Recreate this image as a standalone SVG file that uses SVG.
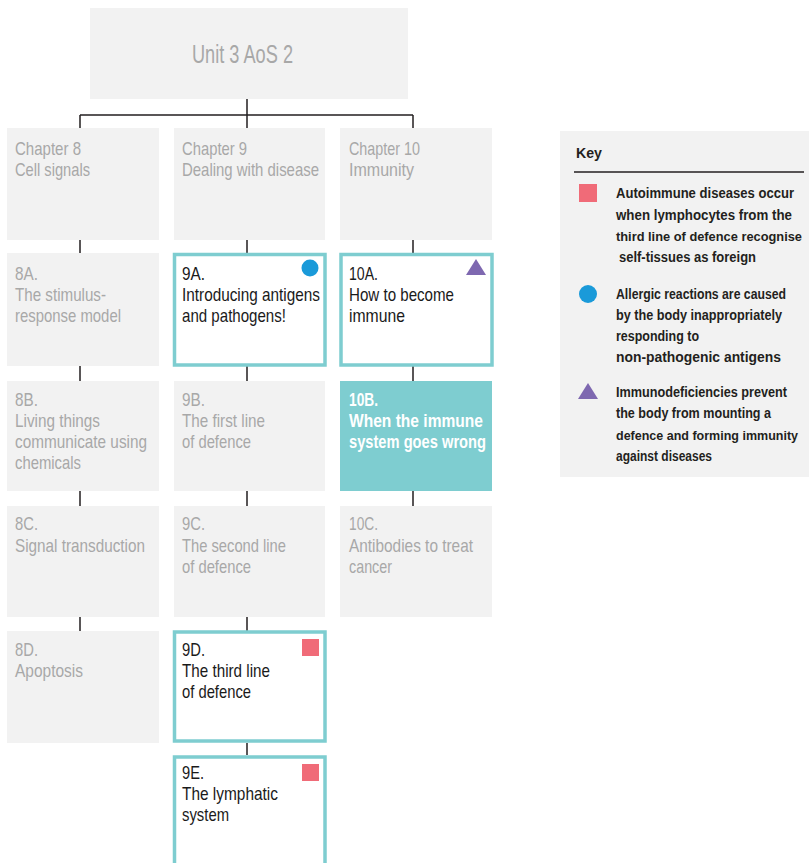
<svg xmlns="http://www.w3.org/2000/svg" width="809" height="863" viewBox="0 0 809 863">
  <style>
    text { font-family: "Liberation Sans Narrow", "Liberation Sans", Arial, sans-serif; }
    .box { fill: #f2f2f2; }
    .active { fill: #ffffff; stroke: #7ecdd0; stroke-width: 3.5; }
    .filled { fill: #7ecdd0; }
    .dim { fill: #a8a8a8; font-size: 19px; }
    .dark { fill: #1a1a1a; font-size: 19px; }
    .light { fill: #ffffff; font-size: 19px; font-weight: bold; }
    .title { fill: #a8a8a8; font-size: 25px; }
    .key { fill: #231f20; font-size: 14px; font-weight: bold; }
    .key.long { font-size: 13px; }
    .link { stroke: #231f20; stroke-width: 1.5; fill: none; }
    .auto { fill: #f06b78; }
    .allergy { fill: #1a9ad9; }
    .immuno { fill: #7e68b0; }
  </style>

  <g id="connectors">
    <path class="link" d="M247 99 V128 M80 115 H413 M80 115 V128 M413 115 V128"/>
    <path class="link" d="M80 240 V253 M80 366 V381 M80 491 V506 M80 617 V631"/>
    <path class="link" d="M247 240 V253 M247 366 V381 M247 491 V506 M247 617 V631 M247 743 V755"/>
    <path class="link" d="M413 240 V253 M413 366 V381 M413 491 V506"/>
  </g>

  <g id="unit">
    <rect class="box" x="90" y="8" width="318" height="91"/>
    <text class="title" x="192" y="63" textLength="101" lengthAdjust="spacingAndGlyphs">Unit 3 AoS 2</text>
  </g>

  <!-- Chapter headers -->
  <g id="ch8">
    <rect class="box" x="7" y="128" width="152" height="112"/>
    <text class="dim" x="15" y="155" textLength="66" lengthAdjust="spacingAndGlyphs">Chapter 8</text>
    <text class="dim" x="15" y="176" textLength="75" lengthAdjust="spacingAndGlyphs">Cell signals</text>
  </g>
  <g id="ch9">
    <rect class="box" x="174" y="128" width="151" height="112"/>
    <text class="dim" x="182" y="155" textLength="65" lengthAdjust="spacingAndGlyphs">Chapter 9</text>
    <text class="dim" x="182" y="176" textLength="137" lengthAdjust="spacingAndGlyphs">Dealing with disease</text>
  </g>
  <g id="ch10">
    <rect class="box" x="340" y="128" width="152" height="112"/>
    <text class="dim" x="349" y="155" textLength="71" lengthAdjust="spacingAndGlyphs">Chapter 10</text>
    <text class="dim" x="349" y="176" textLength="65" lengthAdjust="spacingAndGlyphs">Immunity</text>
  </g>

  <!-- Chapter 8 topics -->
  <g id="t8A">
    <rect class="box" x="7" y="253" width="152" height="113"/>
    <text class="dim" x="15" y="280" textLength="23" lengthAdjust="spacingAndGlyphs">8A.</text>
    <text class="dim" x="15" y="301" textLength="91" lengthAdjust="spacingAndGlyphs">The stimulus-</text>
    <text class="dim" x="15" y="322" textLength="106" lengthAdjust="spacingAndGlyphs">response model</text>
  </g>
  <g id="t8B">
    <rect class="box" x="7" y="381" width="152" height="110"/>
    <text class="dim" x="15" y="406" textLength="23" lengthAdjust="spacingAndGlyphs">8B.</text>
    <text class="dim" x="15" y="427" textLength="85" lengthAdjust="spacingAndGlyphs">Living things</text>
    <text class="dim" x="15" y="448" textLength="132" lengthAdjust="spacingAndGlyphs">communicate using</text>
    <text class="dim" x="15" y="469" textLength="66" lengthAdjust="spacingAndGlyphs">chemicals</text>
  </g>
  <g id="t8C">
    <rect class="box" x="7" y="506" width="152" height="111"/>
    <text class="dim" x="15" y="530" textLength="23" lengthAdjust="spacingAndGlyphs">8C.</text>
    <text class="dim" x="15" y="552" textLength="130" lengthAdjust="spacingAndGlyphs">Signal transduction</text>
  </g>
  <g id="t8D">
    <rect class="box" x="7" y="631" width="152" height="112"/>
    <text class="dim" x="15" y="656" textLength="23" lengthAdjust="spacingAndGlyphs">8D.</text>
    <text class="dim" x="15" y="677" textLength="68" lengthAdjust="spacingAndGlyphs">Apoptosis</text>
  </g>

  <!-- Chapter 9 topics -->
  <g id="t9A">
    <rect class="active" x="174.5" y="254.5" width="150.5" height="110.5"/>
    <text class="dark" x="182" y="280" textLength="23" lengthAdjust="spacingAndGlyphs">9A.</text>
    <text class="dark" x="182" y="301" textLength="138" lengthAdjust="spacingAndGlyphs">Introducing antigens</text>
    <text class="dark" x="182" y="322" textLength="104" lengthAdjust="spacingAndGlyphs">and pathogens!</text>
    <circle class="allergy" cx="310" cy="268" r="8.5"/>
  </g>
  <g id="t9B">
    <rect class="box" x="174" y="381" width="151" height="110"/>
    <text class="dim" x="182" y="406" textLength="23" lengthAdjust="spacingAndGlyphs">9B.</text>
    <text class="dim" x="182" y="427" textLength="83" lengthAdjust="spacingAndGlyphs">The first line</text>
    <text class="dim" x="182" y="448" textLength="69" lengthAdjust="spacingAndGlyphs">of defence</text>
  </g>
  <g id="t9C">
    <rect class="box" x="174" y="506" width="151" height="111"/>
    <text class="dim" x="182" y="530" textLength="23" lengthAdjust="spacingAndGlyphs">9C.</text>
    <text class="dim" x="182" y="552" textLength="104" lengthAdjust="spacingAndGlyphs">The second line</text>
    <text class="dim" x="182" y="573" textLength="69" lengthAdjust="spacingAndGlyphs">of defence</text>
  </g>
  <g id="t9D">
    <rect class="active" x="174.5" y="632" width="150.5" height="109"/>
    <text class="dark" x="182" y="656" textLength="23" lengthAdjust="spacingAndGlyphs">9D.</text>
    <text class="dark" x="182" y="677" textLength="88" lengthAdjust="spacingAndGlyphs">The third line</text>
    <text class="dark" x="182" y="698" textLength="69" lengthAdjust="spacingAndGlyphs">of defence</text>
    <rect class="auto" x="302" y="639" width="17" height="17"/>
  </g>
  <g id="t9E">
    <rect class="active" x="174.5" y="757" width="150.5" height="120"/>
    <text class="dark" x="182" y="779" textLength="22" lengthAdjust="spacingAndGlyphs">9E.</text>
    <text class="dark" x="182" y="800" textLength="96" lengthAdjust="spacingAndGlyphs">The lymphatic</text>
    <text class="dark" x="182" y="821" textLength="47" lengthAdjust="spacingAndGlyphs">system</text>
    <rect class="auto" x="302" y="764" width="17" height="17"/>
  </g>

  <!-- Chapter 10 topics -->
  <g id="t10A">
    <rect class="active" x="341" y="254.5" width="151" height="110.5"/>
    <text class="dark" x="349" y="280" textLength="29" lengthAdjust="spacingAndGlyphs">10A.</text>
    <text class="dark" x="349" y="301" textLength="105" lengthAdjust="spacingAndGlyphs">How to become</text>
    <text class="dark" x="349" y="322" textLength="56" lengthAdjust="spacingAndGlyphs">immune</text>
    <polygon class="immuno" points="476,259 466,275 486,275"/>
  </g>
  <g id="t10B">
    <rect class="filled" x="340" y="381" width="152" height="110"/>
    <text class="light" x="349" y="406" textLength="29" lengthAdjust="spacingAndGlyphs">10B.</text>
    <text class="light" x="349" y="427" textLength="134" lengthAdjust="spacingAndGlyphs">When the immune</text>
    <text class="light" x="349" y="448" textLength="137" lengthAdjust="spacingAndGlyphs">system goes wrong</text>
  </g>
  <g id="t10C">
    <rect class="box" x="340" y="506" width="152" height="111"/>
    <text class="dim" x="349" y="530" textLength="29" lengthAdjust="spacingAndGlyphs">10C.</text>
    <text class="dim" x="349" y="552" textLength="124" lengthAdjust="spacingAndGlyphs">Antibodies to treat</text>
    <text class="dim" x="349" y="573" textLength="43" lengthAdjust="spacingAndGlyphs">cancer</text>
  </g>

  <!-- Key -->
  <g id="key">
    <rect class="box" x="560" y="131" width="249" height="346"/>
    <text class="key" x="576" y="158" textLength="26" lengthAdjust="spacingAndGlyphs">Key</text>
    <line x1="574" y1="172" x2="804" y2="172" stroke="#231f20" stroke-width="1.5"/>

    <rect class="auto" x="579" y="184" width="18" height="18"/>
    <text class="key" x="616" y="198" textLength="178" lengthAdjust="spacingAndGlyphs">Autoimmune diseases occur</text>
    <text class="key" x="616" y="220" textLength="176" lengthAdjust="spacingAndGlyphs">when lymphocytes from the</text>
    <text class="key long" x="616" y="241" textLength="186" lengthAdjust="spacingAndGlyphs">third line of defence recognise</text>
    <text class="key" x="619" y="262" textLength="137" lengthAdjust="spacingAndGlyphs">self-tissues as foreign</text>

    <circle class="allergy" cx="588" cy="294" r="9"/>
    <text class="key" x="616" y="299" textLength="170" lengthAdjust="spacingAndGlyphs">Allergic reactions are caused</text>
    <text class="key" x="616" y="320" textLength="166" lengthAdjust="spacingAndGlyphs">by the body inappropriately</text>
    <text class="key" x="616" y="341" textLength="83" lengthAdjust="spacingAndGlyphs">responding to</text>
    <text class="key" x="616" y="362" textLength="165" lengthAdjust="spacingAndGlyphs">non-pathogenic antigens</text>

    <polygon class="immuno" points="588,383 578,399 598,399"/>
    <text class="key" x="616" y="397" textLength="171" lengthAdjust="spacingAndGlyphs">Immunodeficiencies prevent</text>
    <text class="key" x="616" y="418" textLength="155" lengthAdjust="spacingAndGlyphs">the body from mounting a</text>
    <text class="key long" x="616" y="440" textLength="182" lengthAdjust="spacingAndGlyphs">defence and forming immunity</text>
    <text class="key" x="616" y="461" textLength="96" lengthAdjust="spacingAndGlyphs">against diseases</text>
  </g>
</svg>
